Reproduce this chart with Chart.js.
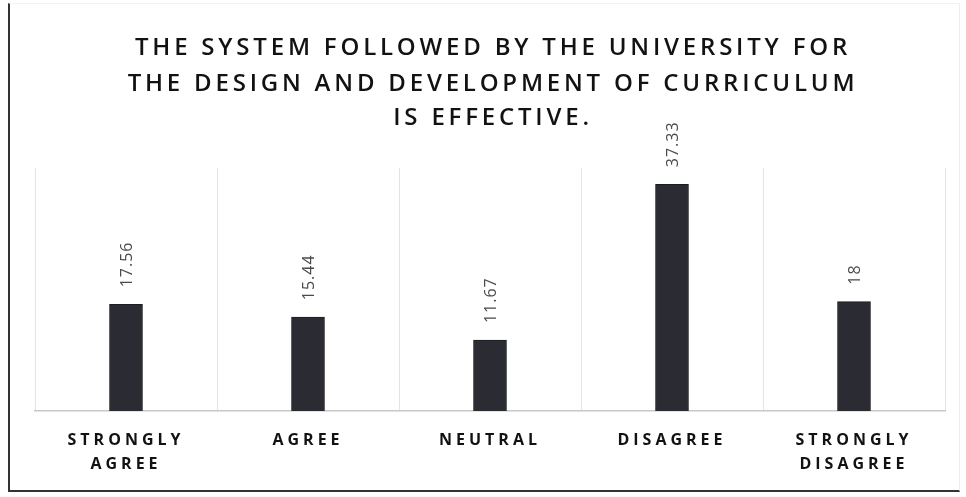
<!DOCTYPE html>
<html>
<head>
<meta charset="utf-8">
<script src="https://cdn.jsdelivr.net/npm/chart.js@4/dist/chart.umd.min.js"></script>
<style>
  html, body { margin: 0; padding: 0; background: #fff; }
  #wrap { position: relative; width: 966px; height: 497px; }
  #frame { position: absolute; left: 8px; top: 3px; width: 952px; height: 489px;
           border-left: 2px solid #333; border-bottom: 2px solid #333;
           border-top: 1px solid #f2f2f2; border-right: 1px solid #eee; box-sizing: border-box; }
  canvas { position: absolute; left: 0; top: 0; }
</style>
</head>
<body>
<div id="wrap">
  <div id="frame"></div>
  <canvas id="c" width="966" height="497"></canvas>
</div>
<script>
const titleLines = ["THE SYSTEM FOLLOWED BY THE UNIVERSITY FOR",
                    "THE DESIGN AND DEVELOPMENT OF CURRICULUM",
                    "IS EFFECTIVE."];
const categories = [["STRONGLY", "AGREE"], ["AGREE"], ["NEUTRAL"], ["DISAGREE"], ["STRONGLY", "DISAGREE"]];
const values = [17.56, 15.44, 11.67, 37.33, 18];
const valueLabels = ["17.56", "15.44", "11.67", "37.33", "18"];

const spacingPlugin = {
  id: 'spacing',
  beforeDraw(chart) { chart.ctx.letterSpacing = '4px'; },
  beforeUpdate(chart) { chart.ctx.letterSpacing = '4px'; },
  afterDatasetsDraw(chart) {
    const ctx = chart.ctx;
    const meta = chart.getDatasetMeta(0);
    ctx.save();
    ctx.letterSpacing = '1px';
    ctx.font = '16px "Open Sans"';
    ctx.fillStyle = '#4a4a4a';
    ctx.textAlign = 'left';
    ctx.textBaseline = 'middle';
    meta.data.forEach((bar, i) => {
      ctx.save();
      ctx.translate(bar.x + 1, bar.y - 17);
      ctx.rotate(-Math.PI / 2);
      ctx.fillText(valueLabels[i], 0, 0);
      ctx.restore();
    });
    ctx.restore();
  },
  afterDraw(chart) {
    const ctx = chart.ctx;
    ctx.save();
    ctx.letterSpacing = '3.8px';
    ctx.font = '600 24px "Open Sans"';
    ctx.fillStyle = '#121212';
    ctx.textAlign = 'center';
    ctx.textBaseline = 'middle';
    const ys = [48, 84, 118];
    titleLines.forEach((t, i) => ctx.fillText(t, 493, ys[i]));
    ctx.restore();
  }
};

new Chart(document.getElementById('c'), {
  type: 'bar',
  data: {
    labels: categories,
    datasets: [{
      data: values,
      backgroundColor: '#2b2b33',
      borderColor: '#1c1c20',
      borderWidth: 1,
      barThickness: 33
    }]
  },
  options: {
    responsive: false,
    animation: false,
    devicePixelRatio: 1,
    layout: { padding: { left: 35, right: 21, top: 168, bottom: 0 } },
    plugins: { legend: { display: false }, title: { display: false }, tooltip: { enabled: false } },
    scales: {
      y: { display: false, min: 0, max: 40 },
      x: {
        afterFit(scale) { scale.height = 86; },
        grid: { display: true, offset: true, color: '#e4e4e4', lineWidth: 1, drawTicks: false },
        border: { display: true, color: '#c8c8c8', width: 1.5 },
        ticks: {
          color: '#121212',
          padding: 17,
          maxRotation: 0,
          font: { family: '"Open Sans"', size: 16, weight: 'bold', lineHeight: 1.5 }
        }
      }
    }
  },
  plugins: [spacingPlugin]
});
</script>
</body>
</html>
